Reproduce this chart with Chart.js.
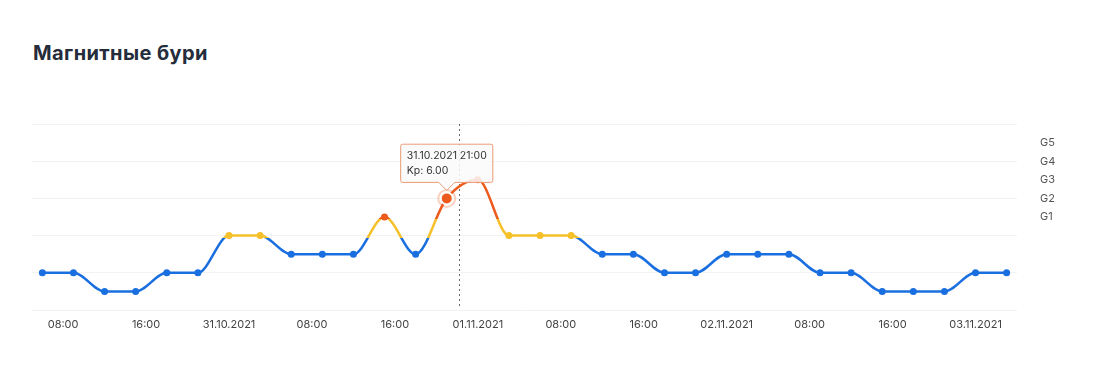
<!DOCTYPE html>
<html>
<head>
<meta charset="utf-8">
<script src="https://cdn.jsdelivr.net/npm/chart.js@4"></script>
<style>
  html, body { margin: 0; padding: 0; background: #fff; }
  body { width: 1111px; height: 378px; position: relative; overflow: hidden; }
  h2 {
    position: absolute; left: 33px; top: 41px; margin: 0;
    font: 700 20px Inter, "Open Sans", sans-serif; letter-spacing: 0.4px; color: #252c3b;
  }
  #wrap { position: absolute; left: 0; top: 0; width: 1111px; height: 378px; }
</style>
</head>
<body>
<h2>Магнитные бури</h2>
<div id="wrap"><canvas id="kpChart"></canvas></div>
<script>
// hours counted from 30.10.2021 00:00
const hours = [6, 9, 12, 15, 18, 21, 24, 27, 30, 33, 36, 39, 42, 45, 48, 51,
               54, 57, 60, 63, 66, 69, 72, 75, 78, 81, 84, 87, 90, 93, 96, 99];
const kp = [2, 2, 1, 1, 2, 2, 4, 4, 3, 3, 3, 5, 3, 6, 7, 4,
            4, 4, 3, 3, 2, 2, 3, 3, 3, 2, 2, 1, 1, 1, 2, 2];
const stormLabels = ['G1', 'G2', 'G3', 'G4', 'G5'];   // Kp 5..9
const nowHour = 46.2;       // dotted marker
const activeIndex = 13;     // point with tooltip

const BLUE = '#1a6fe0', YELLOW = '#f5c02a', ORANGE = '#ec5a1c';
const FONT = 'Inter, "Open Sans", sans-serif';

function hourLabel(h, full) {
  const d = new Date(2021, 9, 30, 0, 0);
  d.setHours(d.getHours() + h);
  const p = n => String(n).padStart(2, '0');
  const date = p(d.getDate()) + '.' + p(d.getMonth() + 1) + '.' + d.getFullYear();
  const time = p(d.getHours()) + ':' + p(d.getMinutes());
  if (full) return date + ' ' + time;
  return d.getHours() === 0 ? date : time;
}

function kpColor(v) {
  if (v >= 5) return ORANGE;
  if (v >= 4) return YELLOW;
  return BLUE;
}

function lineGradient(ctx) {
  const chart = ctx.chart;
  const y = chart.scales.y;
  if (!chart.chartArea || !y) return BLUE;
  const g = chart.ctx.createLinearGradient(0, y.getPixelForValue(0), 0, y.getPixelForValue(10));
  g.addColorStop(0, BLUE);
  g.addColorStop(0.388, BLUE);
  g.addColorStop(0.388, YELLOW);
  g.addColorStop(0.49, YELLOW);
  g.addColorStop(0.49, ORANGE);
  g.addColorStop(1, ORANGE);
  return g;
}

const markerPlugin = {
  id: 'marker',
  beforeDatasetsDraw(chart) {
    const c = chart.ctx, x = chart.scales.x.getPixelForValue(nowHour);
    c.save();
    c.strokeStyle = '#6d6d6d';
    c.lineWidth = 1;
    c.setLineDash([2, 3]);
    c.beginPath();
    c.moveTo(Math.round(x) + 0.5, chart.chartArea.top);
    c.lineTo(Math.round(x) + 0.5, chart.chartArea.bottom - 2);
    c.stroke();
    c.restore();
  },
  afterDatasetsDraw(chart) {
    const el = chart.getDatasetMeta(0).data[activeIndex];
    if (!el) return;
    const c = chart.ctx;
    c.save();
    c.strokeStyle = 'rgba(236,90,28,0.28)';
    c.lineWidth = 2;
    c.beginPath();
    c.arc(el.x, el.y, 8.5, 0, Math.PI * 2);
    c.stroke();
    c.restore();
  }
};

const chart = new Chart(document.getElementById('kpChart'), {
  type: 'line',
  data: {
    datasets: [{
      label: 'Kp',
      data: hours.map((h, i) => ({ x: h, y: kp[i] })),
      borderColor: lineGradient,
      borderWidth: 2.5,
      cubicInterpolationMode: 'monotone',
      pointRadius: 3.5,
      pointBorderWidth: 0,
      pointBackgroundColor: ctx => kpColor(kp[ctx.dataIndex]),
      pointHoverRadius: 6,
      pointHoverBorderWidth: 2,
      pointHoverBorderColor: '#fff',
      pointHoverBackgroundColor: ctx => kpColor(kp[ctx.dataIndex])
    }]
  },
  options: {
    responsive: true,
    maintainAspectRatio: false,
    animation: false,
    events: [],
    layout: { padding: { left: 32, top: 124, bottom: 40, right: 0 } },
    scales: {
      x: {
        type: 'linear',
        min: 5, max: 100,
        grid: { display: false, drawTicks: false },
        border: { display: false },
        afterFit: s => { s.height = 28; },
        ticks: {
          stepSize: 8,
          includeBounds: false,
          autoSkip: false,
          maxRotation: 0,
          padding: 8,
          color: '#444',
          font: { family: FONT, size: 11 },
          callback: v => hourLabel(v, false)
        }
      },
      y: {
        min: 0, max: 10,
        ticks: { display: false, stepSize: 2 },
        grid: { color: '#f3f3f3', drawTicks: false },
        border: { display: false },
        afterFit: s => { s.width = 0; }
      },
      yG: {
        position: 'right',
        min: 0, max: 10,
        grid: { display: false, drawTicks: false },
        border: { display: false },
        afterFit: s => { s.width = 94; },
        ticks: {
          stepSize: 1,
          padding: 23,
          color: '#555',
          font: { family: FONT, size: 11 },
          callback: v => (v >= 5 && v <= 9) ? stormLabels[v - 5] : ''
        }
      }
    },
    plugins: {
      legend: { display: false },
      tooltip: {
        yAlign: 'bottom',
        xAlign: 'center',
        backgroundColor: 'rgba(250,250,250,0.85)',
        borderColor: '#eb9a74',
        borderWidth: 1,
        cornerRadius: 2,
        caretSize: 8,
        caretPadding: 8,
        padding: { x: 6, y: 5 },
        displayColors: false,
        titleColor: '#333',
        bodyColor: '#333',
        titleFont: { family: FONT, size: 10.5, weight: 'normal' },
        bodyFont: { family: FONT, size: 10.5 },
        titleMarginBottom: 3,
        callbacks: {
          title: items => hourLabel(items[0].parsed.x, true),
          label: item => 'Kp: ' + item.parsed.y.toFixed(2)
        }
      }
    }
  },
  plugins: [markerPlugin]
});

const act = [{ datasetIndex: 0, index: activeIndex }];
chart.setActiveElements(act);
chart.tooltip.setActiveElements(act, { x: 0, y: 0 });
chart.update();
</script>
</body>
</html>
